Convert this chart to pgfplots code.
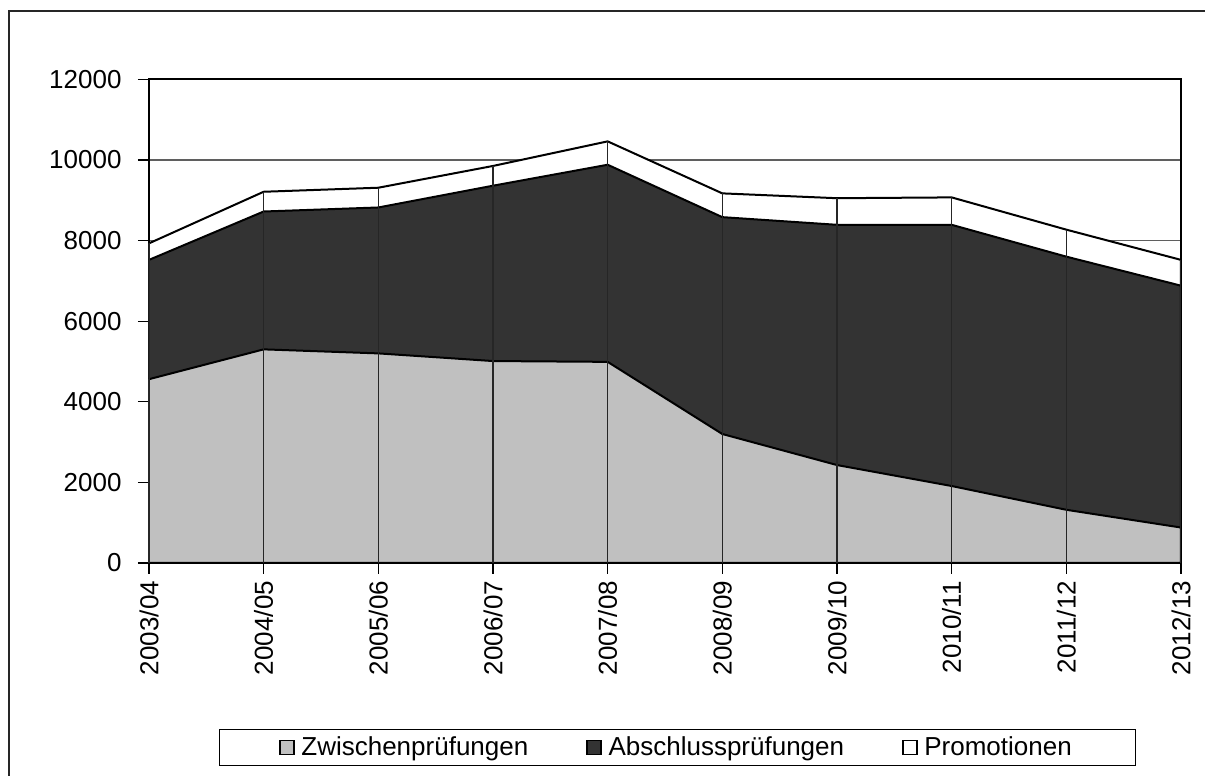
\documentclass[border=0pt]{standalone}
\usepackage{fontspec}
\setmainfont{Liberation Sans}
\usepackage{pgfplots}
\pgfplotsset{compat=1.18}
\definecolor{zw}{HTML}{C0C0C0}
\definecolor{ab}{HTML}{333333}
\definecolor{gridc}{HTML}{5F5F5F}
\begin{document}
\begin{tikzpicture}[font=\fontsize{13pt}{15pt}\selectfont]
\useasboundingbox (0,0) rectangle (602.5pt,388pt);
\draw[black!85, line width=0.9pt] (4.5pt,-10pt) -- (4.5pt,382.5pt) -- (615pt,382.5pt);
\begin{axis}[
  at={(74.5pt,106.5pt)}, anchor=south west,
  scale only axis, width=516pt, height=241.85pt,
  xmin=0, xmax=9, ymin=0, ymax=12000,
  xtick={0,1,2,3,4,5,6,7,8,9},
  xticklabels={2003/04,2004/05,2005/06,2006/07,2007/08,2008/09,2009/10,2010/11,2011/12,2012/13},
  ytick={0,2000,4000,6000,8000,10000,12000},
  scaled y ticks=false,
  yticklabel style={/pgf/number format/fixed, /pgf/number format/precision=0},
  ymajorgrids, grid style={gridc, line width=0.7pt},
  tick align=outside, major tick length=5.5pt, tick pos=left,
  tick style={black, line width=0.6pt},
  axis line style={black, line width=0.9pt},
  every tick label/.append style={font=\fontsize{13pt}{15pt}\selectfont},
  x tick label style={rotate=90, anchor=east},
  y tick label style={xshift=-4.7pt},
  /pgf/number format/assume math mode=true,
  /pgf/number format/1000 sep={},
  legend columns=3,
  legend style={at={(0.5121,-0.3814)}, anchor=center, draw=black, line width=0.6pt,
    inner xsep=30pt, inner ysep=1.5pt, font=\fontsize{13pt}{15pt}\selectfont,
    /tikz/every odd column/.append style={column sep=1.2pt},
    /tikz/every even column/.append style={column sep=27pt}},
  legend image code/.code={\draw[#1, draw=black, line width=0.9pt] (0.2pt,-3.5pt) rectangle (7.2pt,3.5pt);},
]
% Promotionen (cumulative total)
\addplot[fill=white, draw=black, line width=1pt, forget plot] coordinates {
  (0,7930) (1,9210) (2,9310) (3,9850) (4,10460) (5,9170) (6,9050) (7,9070) (8,8270) (9,7520)
} \closedcycle;
% Abschlussprüfungen (cumulative)
\addplot[fill=ab, draw=black, line width=1pt, forget plot] coordinates {
  (0,7520) (1,8720) (2,8820) (3,9360) (4,9880) (5,8580) (6,8390) (7,8390) (8,7600) (9,6880)
} \closedcycle;
% Zwischenprüfungen
\addplot[fill=zw, draw=black, line width=1pt, forget plot] coordinates {
  (0,4560) (1,5300) (2,5200) (3,5010) (4,4990) (5,3200) (6,2430) (7,1910) (8,1320) (9,880)
} \closedcycle;
% drop lines
\addplot[ycomb, black!85, line width=0.55pt, mark=none, forget plot] coordinates {
  (0,7930) (1,9210) (2,9310) (3,9850) (4,10460) (5,9170) (6,9050) (7,9070) (8,8270) (9,7520)
};
\addlegendimage{fill=zw}
\addlegendentry{Zwischenprüfungen}
\addlegendimage{fill=ab}
\addlegendentry{Abschlussprüfungen}
\addlegendimage{fill=white}
\addlegendentry{Promotionen}
\end{axis}
\end{tikzpicture}
\end{document}
